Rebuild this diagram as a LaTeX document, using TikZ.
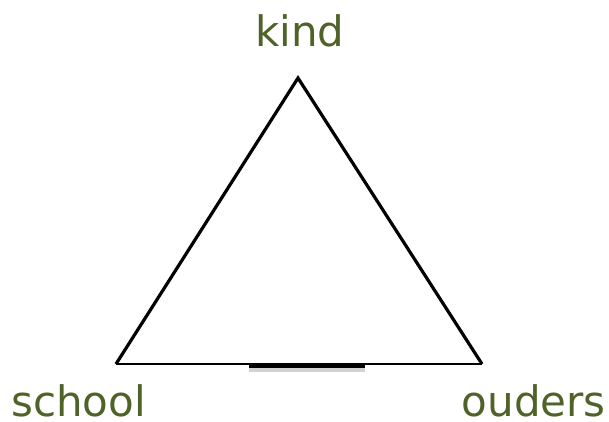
\documentclass[tikz,border=0pt]{standalone}
\usepackage{fontspec}
\setmainfont{DejaVu Sans}
\usetikzlibrary{positioning}
\definecolor{labelgreen}{RGB}{79,98,40}
\tikzset{
  corner/.style = {font=\fontsize{42}{50}\selectfont, text=labelgreen,
                   inner sep=0pt, text depth=0pt},
  side/.style   = {draw=black, line width=3.2pt, line join=miter},
}

\begin{document}
\begin{tikzpicture}[x=1pt, y=-1pt]
  \useasboundingbox (0,0) rectangle (609,421);
  % corners of the triangle
  \coordinate (top)   at (298,78);
  \coordinate (left)  at (116,364);
  \coordinate (right) at (482,364);
  \coordinate (barL)  at (249,366);
  \coordinate (barR)  at (365,366);
  % labels
  \node[corner, anchor=base] (kind) at (300,46) {kind};
  \node[corner, anchor=base west] (school) at (11,416) {school};
  \node[corner, anchor=base east] (ouders) at (606,416) {ouders};
  % triangle
  \draw[side] (left) -- (top) -- (right);
  \draw[line width=2pt] (left) -- (right);
  \draw[gray!35, line width=4pt] ([yshift=-4pt]barL) -- ([yshift=-4pt]barR);
  \draw[line width=4pt] (barL) -- (barR);
\end{tikzpicture}
\end{document}
